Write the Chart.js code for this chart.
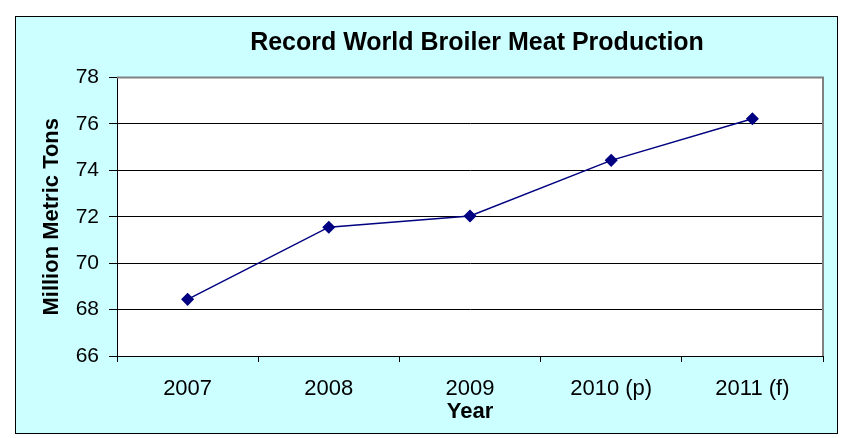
<!DOCTYPE html>
<html>
<head>
<meta charset="utf-8">
<script src="https://cdn.jsdelivr.net/npm/chart.js@4/dist/chart.umd.min.js"></script>
<style>
  html, body { margin: 0; padding: 0; background: #ffffff; }
  canvas { display: block; }
</style>
</head>
<body>
<canvas id="c" width="847" height="438" style="width:847px;height:438px"></canvas>
<script>
const categories = ["2007", "2008", "2009", "2010 (p)", "2011 (f)"];
const production = [68.44, 71.55, 72.03, 74.43, 76.22];
const yTicks = [66, 68, 70, 72, 74, 76, 78];
const chartTitle = "Record World Broiler Meat Production";
const yTitle = "Million Metric Tons";
const xTitle = "Year";

const FONT = "'Liberation Sans', Arial, sans-serif";

const framePlugin = {
  id: 'frame',
  beforeDraw(chart) {
    const ctx = chart.ctx;
    const a = chart.chartArea;
    ctx.save();
    ctx.fillStyle = '#ffffff';
    ctx.fillRect(0, 0, chart.width, chart.height);
    ctx.fillStyle = '#ccffff';
    ctx.fillRect(15, 16, 823, 418);
    ctx.strokeStyle = '#000000';
    ctx.lineWidth = 1;
    ctx.strokeRect(15.5, 16.5, 822, 417);
    ctx.fillStyle = '#ffffff';
    ctx.fillRect(a.left, a.top, a.right - a.left, a.bottom - a.top);
    ctx.restore();
  },
  afterDatasetsDraw(chart) {
    const ctx = chart.ctx;
    const a = chart.chartArea;
    ctx.save();
    ctx.strokeStyle = '#808080';
    ctx.lineWidth = 2;
    ctx.beginPath();
    ctx.moveTo(a.left, a.top);
    ctx.lineTo(a.right, a.top);
    ctx.lineTo(a.right, a.bottom);
    ctx.stroke();
    ctx.fillStyle = '#000000';
    ctx.font = "bold 25px " + FONT;
    ctx.textAlign = 'center';
    ctx.textBaseline = 'middle';
    ctx.fillText(chartTitle, 477, 43);
    ctx.restore();
  }
};

new Chart(document.getElementById('c'), {
  type: 'line',
  data: {
    labels: categories,
    datasets: [{
      data: production,
      borderColor: '#000080',
      backgroundColor: '#000080',
      borderWidth: 1.5,
      pointStyle: 'rectRot',
      pointRadius: 5.5,
      pointHoverRadius: 5.5,
      pointBackgroundColor: '#000080',
      pointBorderColor: '#000080',
      tension: 0,
      fill: false
    }]
  },
  options: {
    responsive: false,
    animation: false,
    devicePixelRatio: 1,
    layout: { padding: { left: 15, right: 24, top: 77.5, bottom: 4 } },
    plugins: {
      legend: { display: false },
      title: { display: false },
      tooltip: { enabled: false }
    },
    scales: {
      x: {
        type: 'category',
        offset: true,
        afterFit(scale) { scale.height = 78; },
        grid: {
          display: true,
          offset: true,
          drawOnChartArea: false,
          drawTicks: true,
          tickLength: 6,
          color: '#000000',
          lineWidth: 1
        },
        border: { display: true, color: '#000000', width: 1 },
        ticks: {
          color: '#000000',
          font: { family: FONT, size: 22 },
          padding: 14,
          maxRotation: 0,
          autoSkip: false
        },
        title: {
          display: true,
          text: xTitle,
          color: '#000000',
          font: { family: FONT, size: 22, weight: 'bold' },
          padding: { top: 0, bottom: 9 }
        }
      },
      y: {
        min: yTicks[0],
        max: yTicks[yTicks.length - 1],
        afterFit(scale) { scale.width = 102; },
        afterBuildTicks(scale) { scale.ticks = yTicks.map(v => ({ value: v })); },
        grid: {
          color: '#000000',
          lineWidth: 1,
          drawTicks: true,
          tickLength: 8
        },
        border: { display: true, color: '#000000', width: 1 },
        ticks: {
          color: '#000000',
          font: { family: FONT, size: 21 },
          padding: 10,
          stepSize: 2
        },
        title: {
          display: true,
          text: yTitle,
          color: '#000000',
          font: { family: FONT, size: 22, weight: 'bold' },
          padding: { top: 24, bottom: 0 }
        }
      }
    }
  },
  plugins: [framePlugin]
});
</script>
</body>
</html>
